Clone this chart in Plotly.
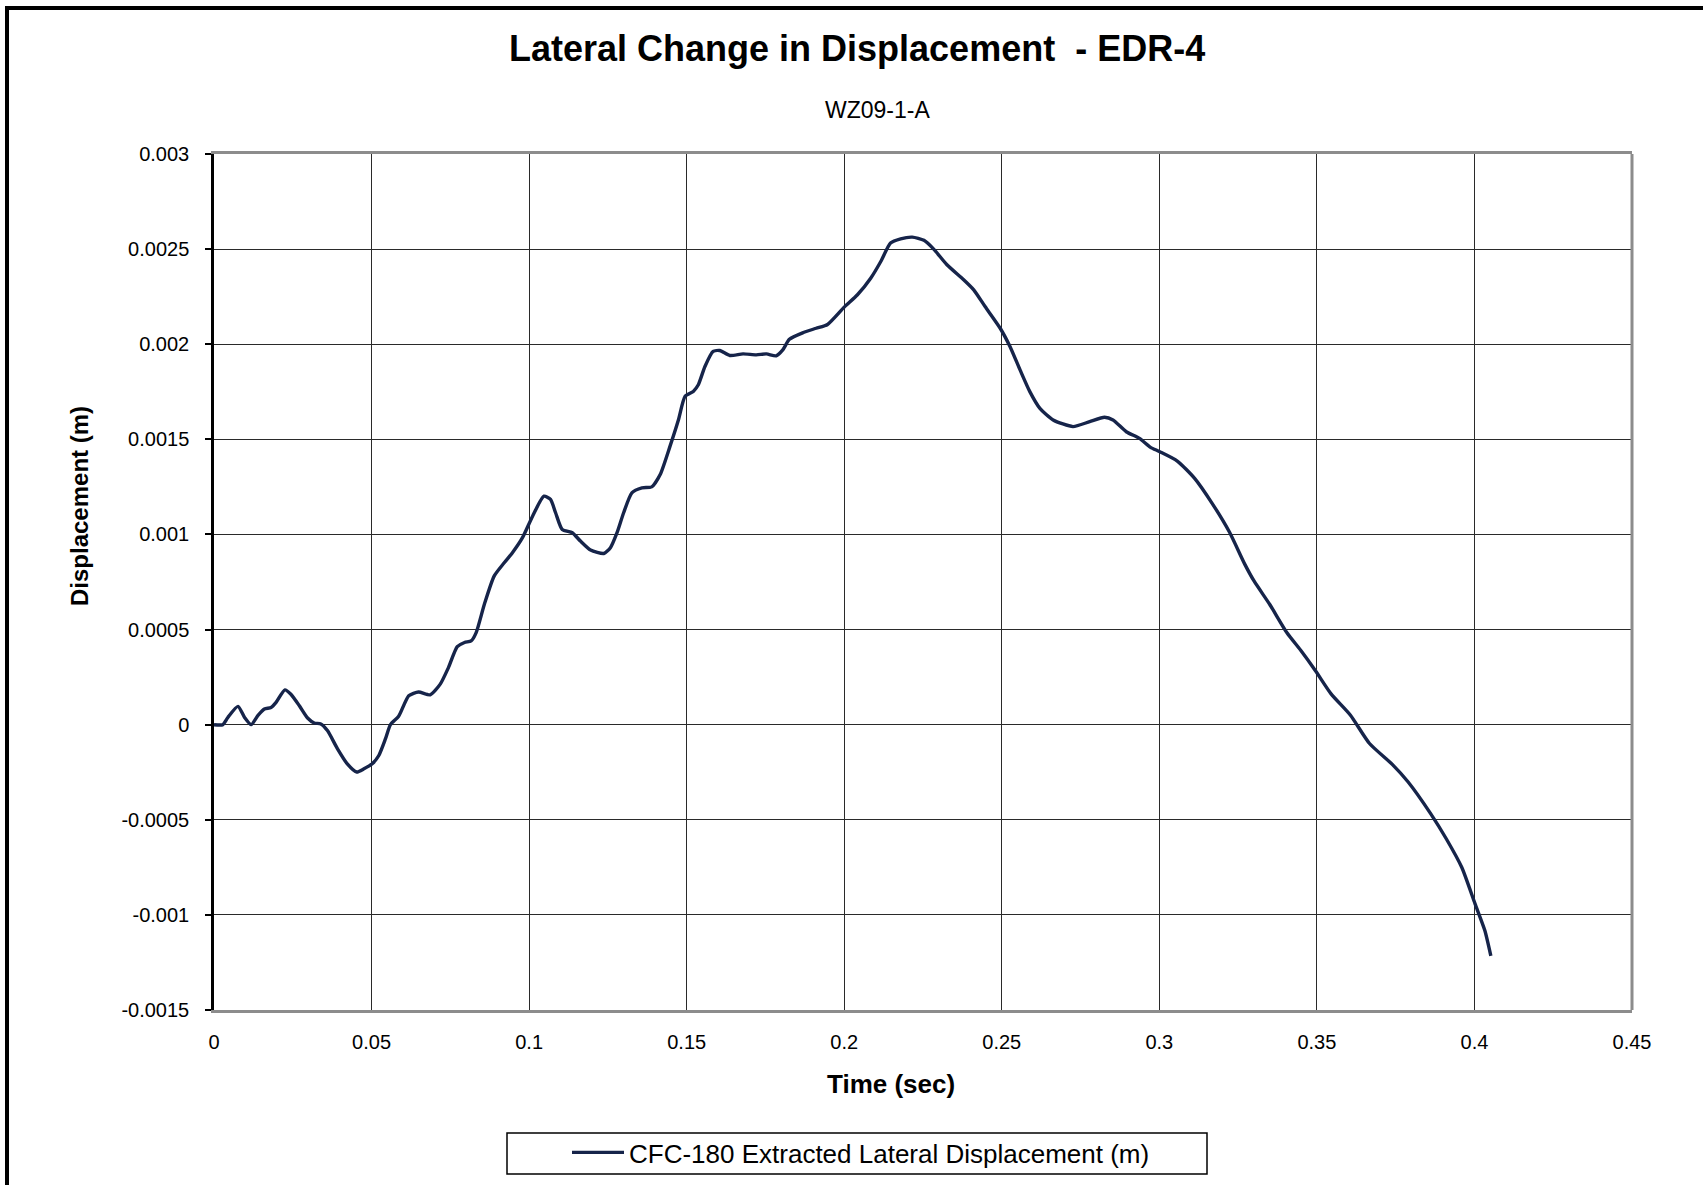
import plotly.graph_objects as go

# ---- data ----
time_sec = [0, 0.0028, 0.0044, 0.0076, 0.0097, 0.0118, 0.0139, 0.016, 0.0181, 0.0197,
            0.0225, 0.0244, 0.0271, 0.0297, 0.0318, 0.0339, 0.036, 0.0392, 0.0423, 0.0453,
            0.0476, 0.0502, 0.0523, 0.0544, 0.056, 0.0586, 0.0618, 0.0649, 0.0686, 0.0718,
            0.0744, 0.0772, 0.0795, 0.0816, 0.0832, 0.0858, 0.0889, 0.0921, 0.0947, 0.0979,
            0.1011, 0.1047, 0.1068, 0.1084, 0.1105, 0.1137, 0.1163, 0.1195, 0.1237, 0.1258,
            0.1279, 0.13, 0.1326, 0.1358, 0.1389, 0.1416, 0.1447, 0.1474, 0.1495, 0.1521,
            0.1537, 0.1558, 0.1584, 0.1605, 0.1637, 0.1679, 0.1721, 0.1753, 0.1784, 0.1805,
            0.1826, 0.1868, 0.1911, 0.1947, 0.2, 0.2042, 0.2084, 0.2116, 0.2147, 0.2179,
            0.2216, 0.2253, 0.2284, 0.2326, 0.2379, 0.2411, 0.2447, 0.2495, 0.2526, 0.2558,
            0.2589, 0.2621, 0.2663, 0.2726, 0.2779, 0.2826, 0.2853, 0.2895, 0.2937, 0.2972,
            0.3, 0.3057, 0.3112, 0.3167, 0.3222, 0.3271, 0.3301, 0.335, 0.3405, 0.3448,
            0.3496, 0.3545, 0.3606, 0.3667, 0.374, 0.3789, 0.3862, 0.3911, 0.396, 0.4002,
            0.4033, 0.4052]

displacement_m = [0, 0, 0.000038, 0.000096, 0.000038, 0.0, 0.000047, 0.000082, 0.00009, 0.000117,
                  0.000183, 0.00016, 0.000099, 0.000035, 0.000009, 0.000004, -0.000031, -0.000127, -0.000206, -0.000249,
                  -0.000232, -0.000206, -0.000162, -0.000075, 0.0, 0.000044, 0.000152, 0.000172, 0.000157, 0.000213,
                  0.0003, 0.00041, 0.000432, 0.00044, 0.000484, 0.000633, 0.000781, 0.000851, 0.000904, 0.000983,
                  0.001096, 0.001201, 0.001184, 0.001114, 0.001026, 0.001009, 0.000965, 0.000918, 0.0009, 0.00093,
                  0.001009, 0.001114, 0.001219, 0.001245, 0.00125, 0.001315, 0.001463, 0.001603, 0.001726, 0.001752,
                  0.001787, 0.001883, 0.001962, 0.001967, 0.001941, 0.001949, 0.001944, 0.001949, 0.001939, 0.00197,
                  0.002026, 0.00206, 0.002084, 0.002104, 0.002195, 0.00226, 0.002347, 0.002435, 0.002532, 0.002554,
                  0.002563, 0.002546, 0.0025, 0.002418, 0.002339, 0.002286, 0.002198, 0.002084, 0.001988, 0.001865,
                  0.001751, 0.001663, 0.001602, 0.001567, 0.001593, 0.001616, 0.001602, 0.00154, 0.001505, 0.001458,
                  0.001436, 0.001386, 0.001295, 0.001165, 0.001014, 0.000844, 0.000754, 0.000633, 0.000483, 0.000392,
                  0.000282, 0.000162, 0.000051, -0.000099, -0.00021, -0.0003, -0.00047, -0.000601, -0.000751, -0.000942,
                  -0.001082, -0.001215]

x_ticks = [0, 0.05, 0.1, 0.15, 0.2, 0.25, 0.3, 0.35, 0.4, 0.45]
x_tick_labels = ["0", "0.05", "0.1", "0.15", "0.2", "0.25", "0.3", "0.35", "0.4", "0.45"]
y_ticks = [-0.0015, -0.001, -0.0005, 0, 0.0005, 0.001, 0.0015, 0.002, 0.0025, 0.003]
y_tick_labels = ["-0.0015", "-0.001", "-0.0005", "0", "0.0005", "0.001", "0.0015", "0.002", "0.0025", "0.003"]

series_name = "CFC-180 Extracted Lateral Displacement (m)"
title_text = "Lateral Change in Displacement  - EDR-4"
subtitle_text = "WZ09-1-A"
x_title = "Time (sec)"
y_title = "Displacement (m)"

FONT = "Arial, Liberation Sans, sans-serif"

fig = go.Figure()
fig.add_trace(go.Scatter(
    x=time_sec, y=displacement_m, mode="lines", name=series_name,
    line=dict(color="#16244a", width=3.4, shape="spline", smoothing=0.6),
))

W, H = 1703, 1185
L, R, T, B = 214, 1632, 154, 1010


def px(xp):
    return (xp - L) / (R - L)


def py(yp):
    return (B - yp) / (B - T)


fig.update_layout(
    width=W, height=H,
    margin=dict(l=L, r=W - R, t=T, b=H - B, autoexpand=False),
    paper_bgcolor="white", plot_bgcolor="white",
    font=dict(family=FONT, color="black", size=20),
    showlegend=True,
    legend=dict(
        orientation="h", x=px(567), xanchor="left", y=py(1129), yanchor="top",
        borderwidth=0, bgcolor="rgba(0,0,0,0)",
        font=dict(size=26, family=FONT), itemwidth=52,
    ),
    xaxis=dict(
        range=[0, 0.45], tickvals=x_ticks, ticktext=x_tick_labels,
        showgrid=True, gridcolor="#2a2a2a", gridwidth=1,
        zeroline=False, showline=True, linecolor="#8c8c8c", linewidth=3, mirror=True,
        ticks="", ticklabelstandoff=12, tickfont=dict(size=20),
    ),
    yaxis=dict(
        range=[-0.0015, 0.003], tickvals=y_ticks, ticktext=y_tick_labels,
        showgrid=True, gridcolor="#2a2a2a", gridwidth=1,
        zeroline=False, showline=True, linecolor="black", linewidth=2.5,
        ticks="outside", ticklen=6, tickcolor="black", tickwidth=1.5,
        ticklabelstandoff=12, tickfont=dict(size=20),
    ),
    annotations=[
        dict(text="<b>" + title_text + "</b>", x=px(857), y=py(49), xref="paper", yref="paper",
             xanchor="center", yanchor="middle", showarrow=False, font=dict(size=36, family=FONT)),
        dict(text=subtitle_text, x=px(877), y=py(110), xref="paper", yref="paper",
             xanchor="center", yanchor="middle", showarrow=False, font=dict(size=23, family=FONT)),
        dict(text="<b>" + x_title + "</b>", x=px(891), y=py(1084), xref="paper", yref="paper",
             xanchor="center", yanchor="middle", showarrow=False, font=dict(size=26, family=FONT)),
        dict(text="<b>" + y_title + "</b>", x=px(79), y=py(506), xref="paper", yref="paper",
             xanchor="center", yanchor="middle", showarrow=False, textangle=-90,
             font=dict(size=24, family=FONT)),
    ],
    shapes=[
        # right border of plot area (gray)
        dict(type="line", xref="paper", yref="paper", x0=1, x1=1, y0=0, y1=1,
             line=dict(color="#8c8c8c", width=3)),
        # legend box
        dict(type="rect", xref="paper", yref="paper", x0=px(507), x1=px(1207), y0=py(1174), y1=py(1133),
             line=dict(color="black", width=1.5), fillcolor="rgba(0,0,0,0)"),
        # outer chart frame (left and top visible)
        dict(type="rect", xref="paper", yref="paper", x0=px(7), x1=px(1720), y0=py(1200), y1=py(8),
             line=dict(color="black", width=4), fillcolor="rgba(0,0,0,0)", layer="above"),
    ],
)

fig.write_html("out.html", config={"displayModeBar": False},
               post_script="document.body.style.margin='0px';document.body.style.overflow='hidden';")
